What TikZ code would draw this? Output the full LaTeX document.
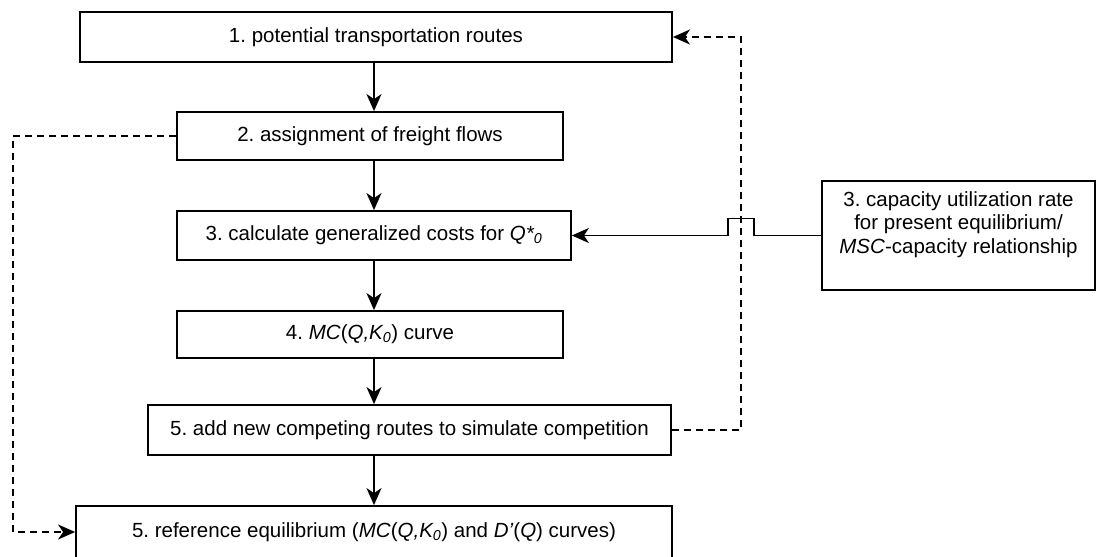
\documentclass[tikz,border=0pt]{standalone}
\usepackage{fontspec}
\setmainfont{Liberation Sans}
\usetikzlibrary{arrows.meta,calc}
\frenchspacing
\begin{document}
\begin{tikzpicture}[x=1pt,y=-1pt,
  font=\fontsize{20.5}{23.8}\selectfont,
  stepbox/.style={draw,line width=1.8pt,inner sep=0pt,align=center},
  flow/.style={line width=1.8pt,-{Stealth[length=17pt,width=15pt,inset=5pt]}},
  feedback/.style={flow,dash pattern=on 7pt off 5pt}]
\useasboundingbox (0,0) rectangle (1104,557);
\clip (0,0) rectangle (1104,557);
\fill[white] (0,0) rectangle (1104,557);

% main chain of steps
\node[stepbox,minimum width=592pt,minimum height=50pt] (b1) at (376,37)
  {1. potential transportation routes};
\node[stepbox,minimum width=386pt,minimum height=48pt] (b2) at (370,136)
  {2. assignment of freight flows};
\node[stepbox,minimum width=394pt,minimum height=49pt] (b3) at (374,235.5)
  {3. calculate generalized costs for \textit{Q*\textsubscript{0}}};
\node[stepbox,minimum width=386pt,minimum height=47pt] (b4) at (370,334.5)
  {4. \textit{MC}(\textit{Q,K\textsubscript{0}}) curve};
\node[stepbox,minimum width=523pt,minimum height=50pt] (b5) at (409.5,430)
  {5. add new competing routes to simulate competition};
\node[stepbox,minimum width=596pt,minimum height=52pt] (b6) at (374,532)
  {5. reference equilibrium (\textit{MC}(\textit{Q,K\textsubscript{0}}) and \textit{D’}(\textit{Q}) curves)};

% side box with its label set in the upper part
\node[stepbox,minimum width=273pt,minimum height=109pt] (cap) at (958.5,235.5) {};
\node[align=center,inner sep=0pt] (caplabel) at ($(cap.center)+(0,-11)$)
  {3. capacity utilization rate\\for present equilibrium/\\\textit{MSC}-capacity relationship};

% vertical spine of the chain
\coordinate (spine) at (374,0);
\draw[flow] (b1.south -| spine) -- (b2.north -| spine);
\draw[flow] (b2.south -| spine) -- (b3.north -| spine);
\draw[flow] (b3.south -| spine) -- (b4.north -| spine);
\draw[flow] (b4.south -| spine) -- (b5.north -| spine);
\draw[flow] (b5.south -| spine) -- (b6.north -| spine);

% feedback from step 5 back to step 1
\coordinate (rloop) at (741,37);
\draw[feedback] (b5.east) -| (rloop) -- (b1.east);

% feedback from step 2 down to the reference equilibrium
\coordinate (lloop) at (13,0);
\draw[feedback] (b2.west) -| (lloop |- b6.west) -- (b6.west);

% capacity input, hopping over the dashed feedback line
\coordinate (hopR) at ($(cap.west -| rloop)+(13,0)$);
\coordinate (hopL) at ($(cap.west -| rloop)+(-13,0)$);
\draw[flow] (cap.west) -- (hopR) -- ++(0,-17) -| (hopL) -- (b3.east);
\end{tikzpicture}
\end{document}
